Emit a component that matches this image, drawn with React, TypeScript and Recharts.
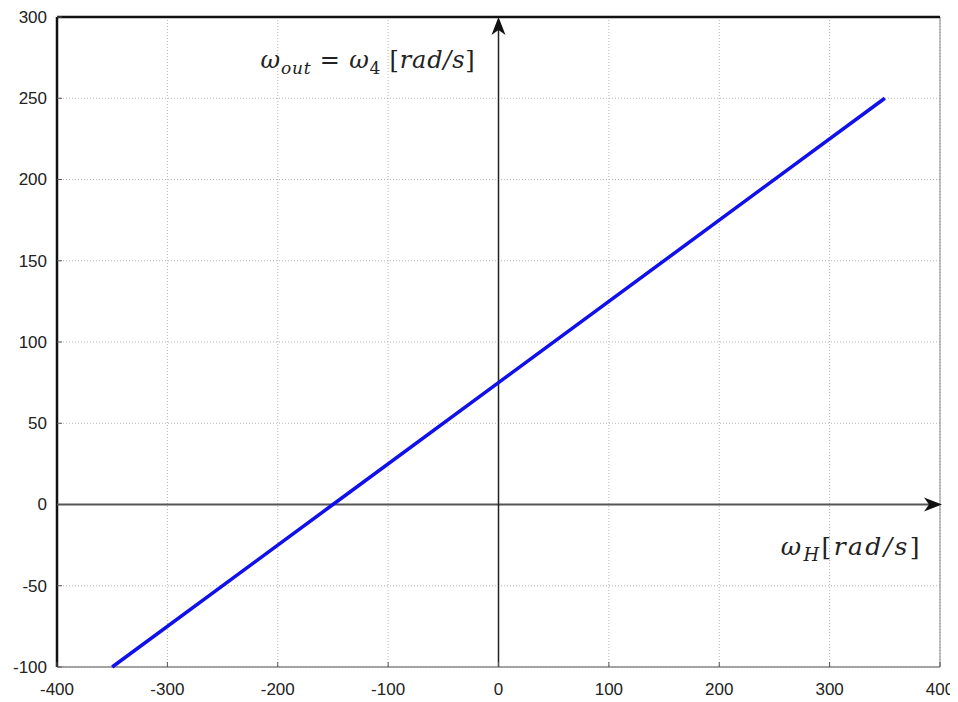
import React from "react"
import { CartesianGrid, Line, LineChart, ReferenceLine, XAxis, YAxis } from "recharts"

const omegaH = [-350, -150, 0, 350]
const omegaOut = [-100, 0, 75, 250]
const xTicks = [-400, -300, -200, -100, 0, 100, 200, 300, 400]
const yTicks = [-100, -50, 0, 50, 100, 150, 200, 250, 300]

const data = omegaH.map((h, i) => ({ h, out: omegaOut[i] }))

const tickFont = { fontFamily: "'Liberation Sans', Arial, sans-serif", fontSize: 17, fill: "#222" }
const mathFont = "'DejaVu Serif', 'Liberation Serif', serif"
const TM = 16 // tick margin bottom
const LM = 10 // tick margin left

const LeftTick = (props: any) => {
  const { x, y, payload } = props
  return (
    <g>
      <line x1={x + LM} x2={x + LM + 5} y1={y} y2={y} stroke="#555" strokeWidth={1} />
      <text x={x} y={y} dy="0.35em" textAnchor="end" {...tickFont}>{payload.value}</text>
    </g>
  )
}

const BottomTick = (props: any) => {
  const { x, y, payload } = props
  return (
    <g>
      <line x1={x} x2={x} y1={y - TM} y2={y - TM - 5} stroke="#555" strokeWidth={1} />
      <text x={x} y={y} dy="0.71em" textAnchor="middle" {...tickFont}>{payload.value}</text>
    </g>
  )
}

const TopTick = (props: any) => {
  const { x, y } = props
  return <line x1={x} x2={x} y1={y} y2={y + 5} stroke="#555" strokeWidth={1} />
}

const RightTick = (props: any) => {
  const { x, y } = props
  return <line x1={x} x2={x - 5} y1={y} y2={y} stroke="#555" strokeWidth={1} />
}

const HArrow = (props: any) => {
  const { x1, x2, y1 } = props
  const l = Math.min(x1, x2)
  const r = Math.max(x1, x2) + 2
  return (
    <g>
      <line x1={l} x2={r - 6} y1={y1} y2={y1} stroke="#555" strokeWidth={2} />
      <polygon points={`${r},${y1} ${r - 18},${y1 - 7} ${r - 13},${y1} ${r - 18},${y1 + 7}`} fill="#111" />
    </g>
  )
}

const VArrow = (props: any) => {
  const { x1, y1, y2 } = props
  const t = Math.min(y1, y2)
  const b = Math.max(y1, y2)
  return (
    <g>
      <line x1={x1} x2={x1} y1={b} y2={t + 6} stroke="#222" strokeWidth={1.5} />
      <polygon points={`${x1},${t} ${x1 - 7},${t + 18} ${x1},${t + 13} ${x1 + 7},${t + 18}`} fill="#111" />
    </g>
  )
}

const OutLabel = (props: any) => {
  const { viewBox } = props
  return (
    <text x={viewBox.x - 23} y={viewBox.y + 51} textAnchor="end" fontFamily={mathFont} fontSize={24} fill="#222" letterSpacing={0.8}>
      <tspan fontStyle="italic">ω</tspan>
      <tspan fontStyle="italic" fontSize={17} dy={6}>out</tspan>
      <tspan dy={-6}> = </tspan>
      <tspan fontStyle="italic">ω</tspan>
      <tspan fontSize={17} dy={6}>4</tspan>
      <tspan dy={-6}> [</tspan>
      <tspan fontStyle="italic">rad/s</tspan>
      <tspan>]</tspan>
    </text>
  )
}

const HLabel = (props: any) => {
  const { viewBox } = props
  return (
    <text x={viewBox.x + viewBox.width - 18} y={viewBox.y + 50} textAnchor="end" fontFamily={mathFont} fontSize={25} fill="#222" letterSpacing={2.4}>
      <tspan fontStyle="italic">ω</tspan>
      <tspan fontStyle="italic" fontSize={18} dy={6}>H</tspan>
      <tspan dy={-6}>[</tspan>
      <tspan fontStyle="italic">rad/s</tspan>
      <tspan>]</tspan>
    </text>
  )
}

export default function App() {
  return (
    <div style={{ width: 950, height: 694, background: "#fff" }}>
      <LineChart width={950} height={694} data={data} margin={{ top: 9, right: 18, bottom: 5, left: 0 }}>
        <CartesianGrid stroke="#b5b5b5" strokeDasharray="1 2" />
        <XAxis
          dataKey="h"
          type="number"
          domain={[-400, 400]}
          ticks={xTicks}
          axisLine={false}
          tickLine={false}
          tickSize={0}
          tickMargin={TM}
          height={30}
          tick={<BottomTick />}
          interval={0}
        />
        <XAxis
          xAxisId="top"
          orientation="top"
          type="number"
          domain={[-400, 400]}
          ticks={xTicks}
          axisLine={false}
          tickLine={false}
          tickSize={0}
          tickMargin={0}
          height={0}
          tick={<TopTick />}
          interval={0}
        />
        <YAxis
          type="number"
          domain={[-100, 300]}
          ticks={yTicks}
          axisLine={false}
          tickLine={false}
          tickSize={0}
          tickMargin={LM}
          width={49}
          tick={<LeftTick />}
          interval={0}
        />
        <YAxis
          yAxisId="right"
          orientation="right"
          type="number"
          domain={[-100, 300]}
          ticks={yTicks}
          axisLine={false}
          tickLine={false}
          tickSize={0}
          tickMargin={0}
          width={0}
          tick={<RightTick />}
          interval={0}
        />
        <ReferenceLine x={400} stroke="#888" strokeWidth={1} />
        <ReferenceLine y={-100} stroke="#888" strokeWidth={1.5} />
        <ReferenceLine y={300} stroke="#111" strokeWidth={2.5} />
        <ReferenceLine x={-400} stroke="#111" strokeWidth={2.5} />
        <ReferenceLine y={0} shape={<HArrow />} label={<HLabel />} />
        <ReferenceLine x={0} shape={<VArrow />} label={<OutLabel />} />
        <Line
          type="linear"
          dataKey="out"
          stroke="#1010ea"
          strokeWidth={3.5}
          dot={false}
          isAnimationActive={false}
        />
      </LineChart>
    </div>
  )
}
